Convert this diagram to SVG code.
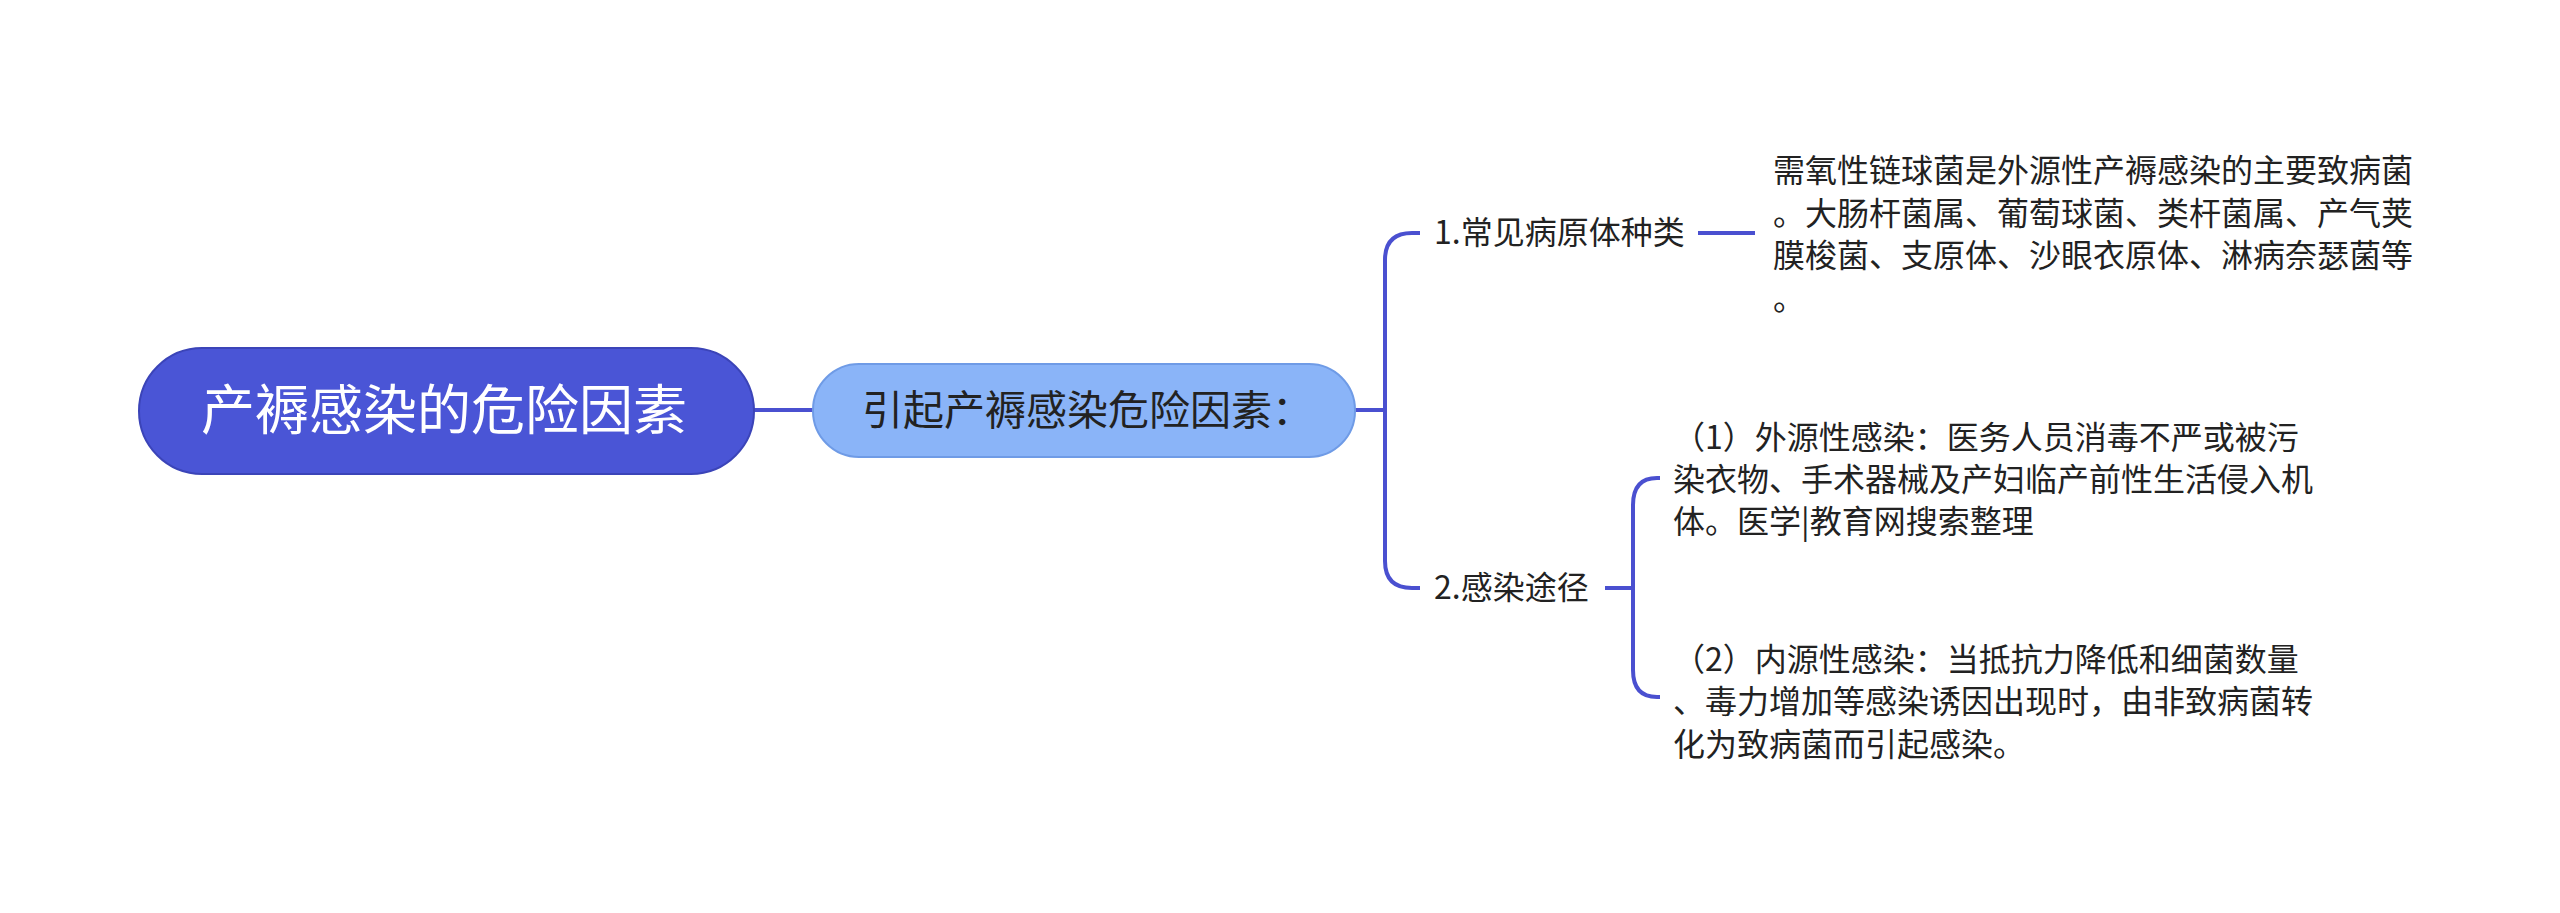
<svg xmlns="http://www.w3.org/2000/svg" width="2560" height="913" viewBox="0 0 2560 913">
<style>
text{font-family:"Noto Sans CJK SC","Noto Sans",sans-serif;}
.c{fill:none;stroke:#4a50d0;stroke-width:4;}
.t{font-size:32px;fill:#222;}
</style>
<rect width="2560" height="913" fill="#fff"/>
<g id="connectors">
<path class="c" d="M754 410H813"/>
<path class="c" d="M1355 410H1385"/>
<path class="c" d="M1385 410V260Q1385 233 1412 233H1420"/>
<path class="c" d="M1385 410V561Q1385 588 1412 588H1420"/>
<path class="c" d="M1698 233H1755"/>
<path class="c" d="M1605 588H1633"/>
<path class="c" d="M1633 588V505Q1633 478 1657 478H1660"/>
<path class="c" d="M1633 588V670Q1633 697 1657 697H1660"/>
</g>
<g id="root"><rect x="139" y="348" width="615" height="126" rx="63" fill="#4a55d6" stroke="#3b44b8" stroke-width="2"/>
<text x="444" y="430" font-size="54" fill="#fff" text-anchor="middle">产褥感染的危险因素</text></g>
<g id="n1"><rect x="813" y="364" width="542" height="93" rx="46" fill="#8ab4f8" stroke="#6f9be6" stroke-width="2"/>
<text x="862" y="425" font-size="41" fill="#222">引起产褥感染危险因素：</text></g>
<g id="n2"><text class="t" x="1434" y="244">1.常见病原体种类</text></g>
<g id="n3"><text class="t" x="1773" y="182">需氧性链球菌是外源性产褥感染的主要致病菌</text>
<text class="t" x="1773" y="225">。大肠杆菌属、葡萄球菌、类杆菌属、产气荚</text>
<text class="t" x="1773" y="267">膜梭菌、支原体、沙眼衣原体、淋病奈瑟菌等</text>
<text class="t" x="1773" y="310">。</text></g>
<g id="n4"><text class="t" x="1434" y="599">2.感染途径</text></g>
<g id="n5"><text class="t" x="1673" y="449">（1）外源性感染：医务人员消毒不严或被污</text>
<text class="t" x="1673" y="491">染衣物、手术器械及产妇临产前性生活侵入机</text>
<text class="t" x="1673" y="533">体。医学|教育网搜索整理</text></g>
<g id="n6"><text class="t" x="1673" y="671">（2）内源性感染：当抵抗力降低和细菌数量</text>
<text class="t" x="1673" y="713">、毒力增加等感染诱因出现时，由非致病菌转</text>
<text class="t" x="1673" y="756">化为致病菌而引起感染。</text></g>
</svg>
